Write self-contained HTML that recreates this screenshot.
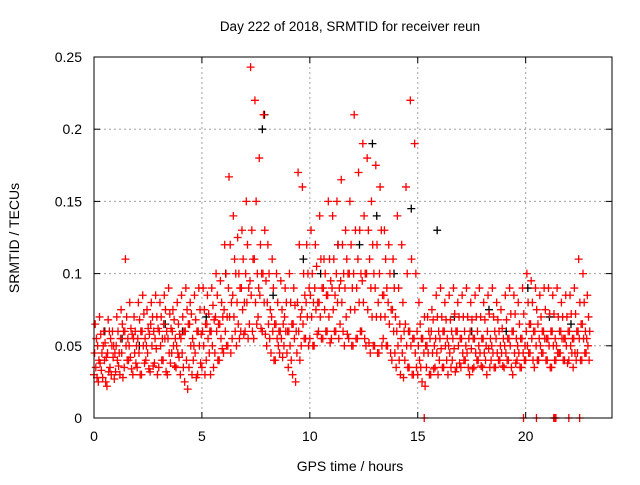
<!DOCTYPE html>
<html><head><meta charset="utf-8"><style>
body{margin:0;background:#fff;}
svg text{font-family:"Liberation Sans",sans-serif;font-size:14px;fill:#000;}
</style></head><body>
<svg id="chart" width="640" height="480" xmlns="http://www.w3.org/2000/svg">
<text x="350" y="31" text-anchor="middle" style="font-size:13.5px">Day 222 of 2018, SRMTID for receiver reun</text>
<text x="350" y="471" text-anchor="middle">GPS time / hours</text>
<text x="0" y="0" text-anchor="middle" transform="translate(19,238) rotate(-90)">SRMTID / TECUs</text>
<g id="grid"></g><g id="ticks"></g><g id="marks"></g>
<rect x="94" y="57" width="518" height="361" fill="none" stroke="#000" stroke-width="1"/>
</svg>
<script>
const xTicks=[0,5,10,15,20];
const yTicks=[0,0.05,0.1,0.15,0.2,0.25];
const yTickLabels=["0","0.05","0.1","0.15","0.2","0.25"];
const hours=[];for(let i=0;i<115;i++)hours.push(i*0.2);
const lowVals=[.03,.025,.028,.022,.03,.032,.03,.035,.04,.03,.035,.03,.04,.032,.038,.035,.04,.03,.045,.035,.03,.025,.035,.04,.03,.035,.04,.03,.045,.04,.045,.05,.055,.05,.06,.06,.065,.055,.07,.06,.05,.045,.04,.045,.05,.035,.03,.045,.05,.055,.055,.05,.06,.055,.06,.055,.06,.065,.05,.055,.05,.055,.06,.05,.045,.05,.045,.055,.05,.04,.035,.03,.04,.035,.03,.03,.025,.035,.03,.035,.04,.035,.03,.04,.035,.035,.04,.03,.035,.04,.035,.03,.04,.035,.04,.035,.04,.03,.04,.035,.04,.045,.035,.04,.045,.04,.035,.04,.045,.04,.04,.035,.045,.04,.045];
const midVals=[.045,.04,.05,.045,.05,.05,.055,.06,.05,.055,.055,.06,.05,.065,.055,.06,.065,.055,.06,.05,.055,.06,.065,.05,.06,.06,.065,.06,.07,.065,.075,.09,.085,.08,.09,.1,.095,.11,.09,.1,.08,.07,.065,.06,.07,.06,.065,.08,.075,.08,.085,.09,.08,.09,.085,.09,.1,.095,.09,.1,.1,.11,.095,.1,.09,.09,.1,.085,.08,.075,.06,.055,.065,.06,.055,.05,.055,.05,.06,.055,.055,.06,.05,.055,.06,.055,.05,.06,.055,.05,.055,.06,.05,.055,.05,.05,.055,.06,.05,.055,.06,.065,.06,.055,.06,.055,.06,.05,.06,.055,.06,.055,.06,.065,.055];
const highVals=[.065,.07,.06,.068,.06,.07,.075,.11,.08,.07,.08,.085,.075,.08,.085,.08,.085,.09,.075,.08,.085,.09,.08,.085,.09,.09,.085,.09,.1,.095,.12,.167,.14,.125,.13,.15,.243,.22,.18,.21,.12,.11,.1,.095,.09,.1,.09,.17,.16,.12,.13,.12,.14,.11,.15,.14,.15,.165,.13,.15,.21,.17,.19,.18,.15,.175,.16,.13,.12,.11,.14,.12,.16,.22,.19,.08,.09,.07,.075,.085,.09,.08,.085,.09,.08,.085,.09,.08,.085,.09,.08,.085,.09,.08,.075,.085,.09,.085,.08,.09,.1,.095,.09,.085,.09,.09,.085,.09,.08,.085,.085,.09,.11,.1,.085];
const mid2Vals=[.035,.038,.04,.032,.042,.04,.045,.05,.042,.045,.045,.05,.045,.05,.048,.05,.055,.045,.05,.045,.045,.04,.05,.045,.05,.05,.055,.05,.06,.055,.06,.07,.07,.065,.075,.08,.085,.08,.085,.08,.065,.06,.055,.055,.06,.05,.055,.06,.065,.07,.07,.075,.07,.075,.07,.075,.08,.08,.07,.075,.075,.08,.08,.075,.07,.07,.07,.07,.065,.06,.05,.045,.05,.05,.045,.04,.045,.045,.045,.045,.048,.05,.045,.048,.05,.045,.045,.048,.045,.045,.045,.048,.045,.045,.045,.045,.05,.045,.045,.045,.05,.055,.05,.05,.055,.05,.05,.045,.055,.05,.05,.045,.055,.055,.05];
const mid3Vals=[.055,.058,.052,.06,.05,.06,.065,.07,.062,.06,.068,.072,.062,.07,.07,.07,.075,.072,.068,.065,.07,.075,.072,.068,.075,.075,.072,.078,.085,.08,.1,.12,.11,.1,.11,.12,.13,.15,.12,.13,.1,.09,.08,.075,.08,.08,.078,.12,.1,.1,.1,.105,.11,.1,.11,.11,.12,.12,.11,.12,.13,.13,.14,.13,.12,.12,.13,.11,.1,.09,.09,.08,.1,.11,.1,.065,.07,.06,.068,.07,.07,.068,.068,.072,.07,.07,.07,.068,.07,.07,.068,.072,.07,.068,.062,.068,.072,.072,.065,.072,.08,.08,.075,.07,.075,.072,.072,.07,.07,.07,.072,.072,.08,.08,.07];
const low2Vals=[.028,.033,.025,.035,.027,.036,.028,.04,.034,.038,.03,.038,.034,.036,.03,.04,.032,.038,.036,.042,.035,.02,.03,.028,.038,.03,.045,.035,.04,.048,.05,.045,.06,.055,.058,.055,.06,.065,.062,.058,.055,.04,.05,.042,.045,.04,.025,.04,.055,.05,.05,.058,.055,.06,.052,.06,.055,.06,.058,.05,.055,.06,.055,.052,.05,.045,.05,.05,.045,.045,.04,.028,.035,.03,.035,.035,.022,.03,.034,.03,.035,.04,.035,.032,.038,.04,.035,.034,.04,.036,.04,.035,.035,.04,.036,.04,.035,.038,.035,.04,.045,.04,.04,.045,.04,.035,.04,.045,.04,.038,.045,.04,.04,.045,.04];
const mid4Vals=[.05,.045,.042,.055,.045,.045,.06,.055,.058,.05,.06,.055,.058,.06,.062,.055,.06,.062,.055,.058,.06,.065,.055,.06,.058,.065,.06,.068,.065,.07,.07,.08,.1,.09,.08,.09,.11,.1,.1,.095,.075,.065,.06,.065,.06,.065,.06,.07,.085,.09,.08,.08,.09,.085,.095,.085,.09,.1,.1,.09,.09,.1,.1,.11,.1,.08,.085,.09,.075,.07,.065,.06,.06,.055,.06,.055,.05,.055,.05,.06,.06,.055,.06,.06,.055,.06,.055,.055,.06,.055,.05,.055,.06,.06,.055,.055,.06,.055,.055,.05,.065,.06,.065,.06,.055,.06,.055,.06,.055,.06,.055,.06,.065,.06,.06];
const blackHours=[0.5,1.3,2.1,3.3,4.1,5.2,6.1,7.9,8.3,9.7,10.5,11.3,12.3,13.1,13.9,14.7,15.9,16.7,17.5,18.3,19.1,20.1,21.1,22.1,7.8,12.9];
const blackVals=[.06,.055,.05,.065,.06,.07,.1,.21,.085,.11,.1,.12,.12,.14,.1,.145,.13,.07,.06,.075,.06,.09,.07,.065,.2,.19];
const zeroHours=[15.3,19.9,20.5,21.3,21.35,21.4,22.0,22.5];
const NS="http://www.w3.org/2000/svg";
const X=h=>94+h*(518/24), Y=v=>418-v*1444;
const grid=document.getElementById('grid'),ticks=document.getElementById('ticks'),marks=document.getElementById('marks');
function mk(t,a,p){const e=document.createElementNS(NS,t);for(const k in a)e.setAttribute(k,a[k]);p.appendChild(e);return e;}
xTicks.forEach(t=>{const x=X(t);
 if(t>0){const g=mk('line',{x1:x,y1:57,x2:x,y2:418,stroke:'#a0a0a0','stroke-dasharray':'2,3'},grid);}
 mk('line',{x1:x,y1:418,x2:x,y2:412,stroke:'#000'},ticks);mk('line',{x1:x,y1:57,x2:x,y2:63,stroke:'#000'},ticks);
 const l=mk('text',{x:x,y:441,'text-anchor':'middle'},ticks);l.textContent=t;});
yTicks.forEach((t,i)=>{const y=Y(t);
 if(t>0&&t<0.25){const g=mk('line',{x1:94,y1:y,x2:612,y2:y,stroke:'#a0a0a0','stroke-dasharray':'2,3'},grid);}
 mk('line',{x1:94,y1:y,x2:100,y2:y,stroke:'#000'},ticks);mk('line',{x1:612,y1:y,x2:606,y2:y,stroke:'#000'},ticks);
 const l=mk('text',{x:82,y:y+5,'text-anchor':'end'},ticks);l.textContent=yTickLabels[i];});
function plus(h,v,c){const x=X(h),y=Y(v);const p=mk('path',{d:`M${x-4},${y}h8M${x},${y-4}v8`,stroke:c,'stroke-width':1.3,fill:'none'},marks);
 }
blackHours.forEach((h,i)=>plus(h,blackVals[i],'#000'));
[lowVals,midVals,highVals,mid2Vals,mid3Vals,low2Vals,mid4Vals].forEach((arr,k)=>arr.forEach((v,i)=>plus(hours[i]+k*0.028,v,'#f00')));
zeroHours.forEach(h=>plus(h,0,'#f00'));
</script>
</body></html>
